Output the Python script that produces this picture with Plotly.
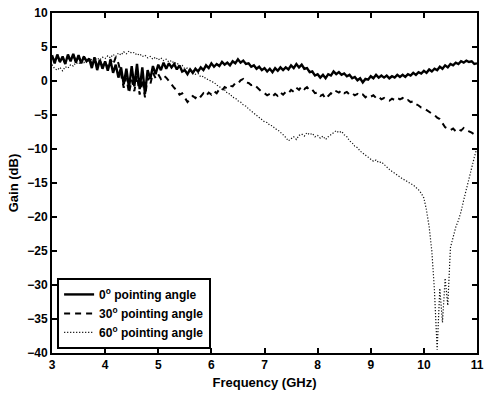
import plotly.graph_objects as go

# Frequency grid (GHz), 0.05 GHz spacing
freq = [round(3 + 0.05 * i, 2) for i in range(161)]

# Gain (dB) for 0 degree pointing angle
gain_0 = [
    3.8, 2.6, 3.9, 2.8, 3.6, 2.5, 3.9, 2.9, 4.0, 2.7, 3.8, 2.6, 3.6, 2.9, 3.3, 1.9, 3.5, 1.6, 3.1, 1.8,
    2.9, 1.5, 3.0, 1.2, 2.4, 0.5, 2.0, -0.5, 1.8, -1.0, 2.2, -0.8, 2.5, -1.2, 2.0, -1.9, 1.6, 0.3, 2.2, 1.0,
    2.4, 1.6, 2.7, 1.8, 2.6, 2.0, 2.5, 1.7, 2.3, 1.4, 1.6, 1.0, 1.7, 1.2, 1.8, 1.4, 2.0, 1.6, 2.3, 1.9,
    2.6, 2.1, 2.5, 2.2, 2.8, 2.4, 2.7, 2.3, 2.9, 2.6, 3.2, 2.7, 3.0, 2.5, 2.6, 2.1, 2.3, 1.8, 2.1, 1.6,
    1.9, 1.4, 1.8, 1.3, 1.9, 1.5, 2.0, 1.6, 2.0, 1.7, 2.3, 1.9, 2.5, 2.0, 2.4, 1.8, 1.9, 1.3, 1.4, 0.8,
    1.0, 0.5, 0.9, 0.4, 1.0, 0.8, 1.4, 1.0, 1.3, 0.9, 1.1, 0.7, 0.9, 0.4, 0.6, 0.1, 0.4, -0.2, 0.3, 0.2,
    0.7, 0.4, 0.9, 0.5, 0.8, 0.5, 0.8, 0.4, 0.7, 0.5, 0.9, 0.6, 0.9, 0.6, 1.0, 0.8, 1.2, 0.9, 1.3, 1.1,
    1.5, 1.2, 1.7, 1.4, 1.8, 1.6, 2.1, 1.8, 2.3, 2.0, 2.5, 2.3, 2.7, 2.5, 2.9, 2.7, 3.0, 2.8, 2.9, 2.5, 2.6,
]

# Gain (dB) for 30 degree pointing angle
gain_30 = [
    3.5, 3.0, 3.7, 2.8, 3.4, 2.6, 3.6, 3.0, 3.8, 2.9, 3.5, 2.8, 3.5, 3.0, 3.3, 2.5, 3.2, 2.4, 3.0, 2.2,
    2.8, 2.0, 3.2, 2.4, 3.5, 2.6, 1.0, -1.0, 0.5, -1.8, 0.2, -1.5, 0.8, -2.0, 0.3, -2.4, 0.5, -0.5, 1.2, 0.4,
    1.0, 0.3, 0.8, 0.5, 0.0, -0.6, -1.0, -1.4, -2.0, -1.8, -2.4, -3.1, -2.6, -2.2, -2.5, -2.0, -2.3, -1.8, -2.2, -1.7,
    -2.0, -1.5, -1.8, -1.2, -1.4, -0.9, -1.1, -0.7, -0.8, -0.3, -0.4, 0.1, 0.3, -0.2, -0.3, -0.6, -0.5, -0.9, -1.2, -1.6,
    -1.8, -2.1, -1.9, -2.3, -1.9, -2.2, -1.7, -2.0, -1.6, -1.8, -1.3, -1.6, -1.0, -1.3, -0.8, -1.2, -0.9, -1.4, -1.3, -1.8,
    -1.7, -2.2, -2.0, -2.6, -2.2, -1.8, -2.0, -1.5, -1.7, -1.4, -1.8, -1.6, -2.0, -1.8, -2.1, -1.9, -2.2, -2.0, -2.4, -2.1,
    -2.3, -2.1, -2.5, -2.3, -2.7, -2.5, -2.8, -2.9, -2.6, -2.8, -2.5, -2.7, -2.5, -2.9, -2.8, -3.1, -3.0, -3.4, -3.6, -3.9,
    -4.0, -4.3, -4.5, -4.8, -5.0, -5.4, -5.6, -6.3, -6.8, -7.0, -7.2, -7.0, -7.4, -7.1, -7.3, -6.9, -7.2, -7.4, -7.6, -7.8, -8.1,
]

# Gain (dB) for 60 degree pointing angle
gain_60 = [
    2.4, 1.8, 1.6, 2.0, 1.5, 2.1, 1.9, 2.4, 2.2, 2.7, 2.5, 2.9, 2.7, 3.1, 2.9, 3.2, 3.0, 3.4, 3.1, 3.5,
    3.3, 3.7, 3.4, 3.9, 3.6, 4.1, 3.8, 4.3, 4.0, 4.4, 4.1, 4.2, 3.8, 4.0, 3.6, 3.8, 3.4, 3.6, 3.2, 3.5,
    3.1, 3.4, 3.0, 3.2, 2.8, 3.0, 2.6, 2.7, 2.2, 2.3, 1.8, 1.9, 1.4, 1.5, 1.0, 1.1, 0.6, 0.7, 0.3, 0.2,
    -0.1, -0.2, -0.6, -0.8, -1.2, -1.3, -1.8, -1.9, -2.4, -2.5, -2.9, -3.1, -3.5, -3.7, -4.1, -4.4, -4.8, -5.0, -5.4, -5.6,
    -6.0, -6.1, -6.5, -6.6, -7.0, -7.2, -7.5, -7.9, -8.3, -8.8, -8.5, -8.2, -8.6, -8.0, -7.8, -8.1, -7.6, -7.9, -7.7, -8.2,
    -8.0, -8.4, -8.1, -8.6, -8.2, -7.9, -7.5, -7.3, -7.6, -7.4, -7.9, -8.2, -8.8, -9.1, -9.6, -9.8, -10.3, -10.6, -11.0, -11.3,
    -11.5, -11.8, -11.6, -12.0, -11.9, -12.3, -12.6, -13.0, -13.3, -13.6, -13.9, -14.1, -14.4, -14.6, -14.9, -15.1, -15.3, -15.6, -16.0, -16.5,
    -17.2, -19.0, -21.5, -25.0, -31.0, -39.5, -30.5, -35.5, -29.0, -33.0, -24.5, -23.0, -21.5, -20.5, -19.2, -17.5, -15.8, -14.2, -12.6, -11.2, -9.8,
]

labels = ["0<sup>o</sup> pointing angle", "30<sup>o</sup> pointing angle", "60<sup>o</sup> pointing angle"]

fig = go.Figure()
fig.add_trace(go.Scatter(x=freq, y=gain_0, mode="lines", name=labels[0],
                         line=dict(color="black", width=2.4)))
fig.add_trace(go.Scatter(x=freq, y=gain_30, mode="lines", name=labels[1],
                         line=dict(color="black", width=2, dash="6px,5px")))
fig.add_trace(go.Scatter(x=freq, y=gain_60, mode="lines", name=labels[2],
                         line=dict(color="#111111", width=1.2, dash="1.2px,1.8px")))

fam = "Liberation Sans, Arial, sans-serif"
bold = dict(family=fam, size=12, color="black", weight="bold")

axis_common = dict(
    showline=True, linewidth=2, linecolor="black", mirror="ticks",
    ticks="inside", ticklen=5, tickwidth=2, tickcolor="black",
    showgrid=False, zeroline=False, tickfont=bold,
)

fig.update_layout(
    width=490, height=396,
    margin=dict(l=52, r=6, t=13, b=43),
    paper_bgcolor="white", plot_bgcolor="white",
    font=bold,
    xaxis=dict(range=[3, 11], dtick=1, tick0=3,
               title=dict(text="Frequency (GHz)", font=dict(family=fam, size=13, color="black", weight="bold"), standoff=6),
               **axis_common),
    yaxis=dict(range=[-40, 10], dtick=5, tick0=0,
               title=dict(text="Gain (dB)", font=dict(family=fam, size=13, color="black", weight="bold"), standoff=6),
               **axis_common),
    legend=dict(x=0.012, y=0.012, xanchor="left", yanchor="bottom",
                bgcolor="white", bordercolor="black", borderwidth=2,
                font=dict(family=fam, size=12, color="black", weight="bold")),
    showlegend=True,
)

fig.write_html("out.html")
